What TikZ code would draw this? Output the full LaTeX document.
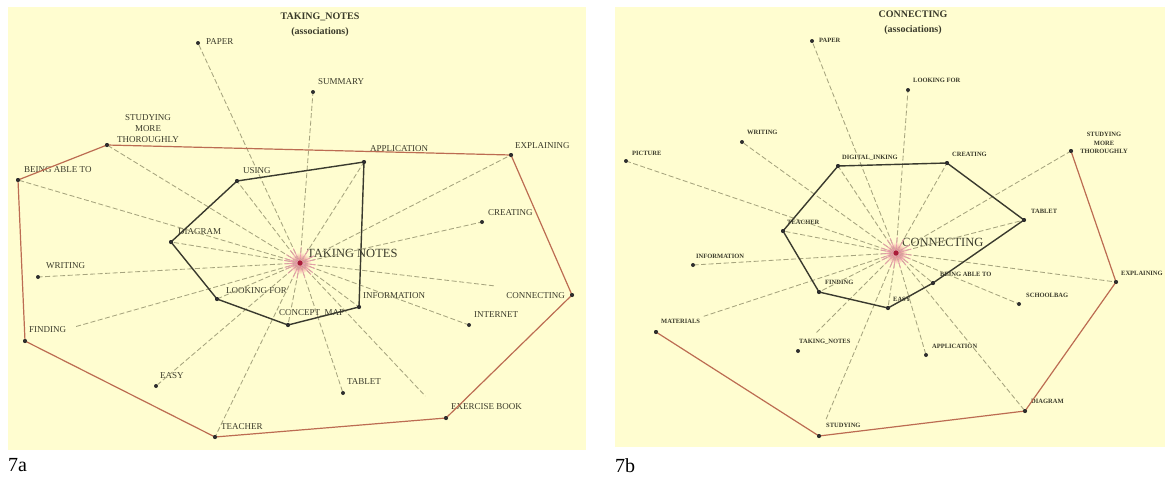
\documentclass[tikz,border=0pt]{standalone}
\usepackage{fontspec}
\setmainfont{Liberation Serif}
\usetikzlibrary{calc}
\definecolor{paper}{RGB}{255,253,208}
\definecolor{ink}{RGB}{58,58,42}
\definecolor{hull}{RGB}{188,108,82}
\definecolor{core}{RGB}{58,58,46}
\definecolor{assoc}{RGB}{166,164,126}
\definecolor{hub}{RGB}{212,36,72}
\pgfdeclarelayer{bg}
\pgfsetlayers{bg,main}
\begin{document}
\begin{tikzpicture}[x=1pt,y=-1pt,
  dot/.style={circle,fill=black!82,inner sep=0pt,minimum size=4pt},
  hubdot/.style={circle,fill=hub,inner sep=0pt,minimum size=5pt},
  lbl/.style={font=\fontsize{9}{11}\selectfont,text=ink,inner sep=0pt,anchor=west},
  lblb/.style={font=\fontsize{6.5}{8.5}\selectfont\bfseries,text=ink,inner sep=0pt,anchor=west},
  big/.style={font=\fontsize{12.5}{14}\selectfont,text=ink,inner sep=0pt,anchor=west},
  ttl/.style={font=\fontsize{10}{15}\selectfont\bfseries,text=ink,inner sep=0pt,align=center},
  figtag/.style={font=\fontsize{20}{22}\selectfont,text=black,inner sep=0pt,anchor=base west},
  assocline/.style={draw=assoc,dash pattern=on 5pt off 2.5pt,line width=0.85pt},
  spoke/.style={draw=hub!45,line width=0.7pt},
  hullline/.style={draw=hull,line width=1.2pt,line join=round},
  coreline/.style={draw=core,line width=1.4pt,line join=round},
  ]
\useasboundingbox (0,0) rectangle (1165,477);

% ---------------- panel 7a ----------------
\node[hubdot] (tn) at (300,263) {};
\node[dot] (aPaper) at (198,43) {};
\node[dot] (aSummary) at (313,92) {};
\node[dot] (aStudyMore) at (107,145) {};
\node[dot] (aBeing) at (18,180) {};
\node[dot] (aUsing) at (237,181) {};
\node[dot] (aAppl) at (364,162) {};
\node[dot] (aExpl) at (511,155) {};
\node[dot] (aCreat) at (482,222) {};
\node[dot] (aDiag) at (171,242) {};
\node[dot] (aWrit) at (38,277) {};
\node[dot] (aLook) at (217,299) {};
\node[dot] (aConcept) at (288,325) {};
\node[dot] (aInfo) at (359,307) {};
\node[dot] (aConn) at (572,295) {};
\node[dot] (aInternet) at (469,325) {};
\node[dot] (aFind) at (25,341) {};
\node[dot] (aEasy) at (156,386) {};
\node[dot] (aTablet) at (343,393) {};
\node[dot] (aExer) at (446,418) {};
\node[dot] (aTeach) at (215,437) {};

\node[ttl] (aTitle) at (320,24.5) {TAKING\_NOTES\\(associations)};
\node[lbl] (aPaperL) at (206,42) {PAPER};
\node[lbl] (aSummaryL) at (318,82) {SUMMARY};
\node[lbl,anchor=center,align=center] (aStudyMoreL) at (148,129) {STUDYING\\MORE\\THOROUGHLY};
\node[lbl] (aBeingL) at (24,170) {BEING ABLE TO};
\node[lbl] (aUsingL) at (243,171) {USING};
\node[lbl] (aApplL) at (370,149) {APPLICATION};
\node[lbl] (aExplL) at (515,146) {EXPLAINING};
\node[lbl] (aCreatL) at (488,213) {CREATING};
\node[lbl] (aDiagL) at (178,232) {DIAGRAM};
\node[big] (tnL) at (307,253) {TAKING NOTES};
\node[lbl] (aWritL) at (46,266) {WRITING};
\node[lbl] (aLookL) at (226,291) {LOOKING FOR};
\node[lbl] (aConceptL) at (279,313) {CONCEPT\_MAP};
\node[lbl] (aInfoL) at (363,296) {INFORMATION};
\node[lbl,anchor=east] (aConnL) at (565,296) {CONNECTING};
\node[lbl] (aInternetL) at (474,315) {INTERNET};
\node[lbl] (aFindL) at (29,330) {FINDING};
\node[lbl] (aEasyL) at (160,376) {EASY};
\node[lbl] (aTabletL) at (347,382) {TABLET};
\node[lbl] (aExerL) at (451,407) {EXERCISE BOOK};
\node[lbl] (aTeachL) at (221,427) {TEACHER};
\node[figtag] (capA) at (8,471) {7a};

% ---------------- panel 7b ----------------
\node[hubdot] (cn) at (896,253) {};
\node[dot] (bPaper) at (812,41) {};
\node[dot] (bLook) at (908,90) {};
\node[dot] (bWrit) at (742,142) {};
\node[dot] (bPict) at (626,161) {};
\node[dot] (bDigi) at (838,166) {};
\node[dot] (bCreat) at (947,163) {};
\node[dot] (bStudyMore) at (1071,151) {};
\node[dot] (bTablet) at (1024,220) {};
\node[dot] (bTeach) at (783,231) {};
\node[dot] (bInfo) at (693,265) {};
\node[dot] (bFind) at (819,292) {};
\node[dot] (bEasy) at (888,308) {};
\node[dot] (bBeing) at (933,283) {};
\node[dot] (bSchool) at (1019,304) {};
\node[dot] (bExpl) at (1116,282) {};
\node[dot] (bMat) at (656,332) {};
\node[dot] (bTaking) at (798,351) {};
\node[dot] (bAppl) at (926,355) {};
\node[dot] (bDiag) at (1025,411) {};
\node[dot] (bStudy) at (819,436) {};

\node[ttl] (bTitle) at (913,23) {CONNECTING\\(associations)};
\node[lblb] (bPaperL) at (819,40) {PAPER};
\node[lblb] (bLookL) at (913,80) {LOOKING FOR};
\node[lblb] (bWritL) at (747,132) {WRITING};
\node[lblb] (bPictL) at (632,153) {PICTURE};
\node[lblb] (bDigiL) at (842,158) {DIGITAL\_INKING};
\node[lblb] (bCreatL) at (952,154) {CREATING};
\node[lblb,anchor=center,align=center] (bStudyMoreL) at (1104,143) {STUDYING\\MORE\\THOROUGHLY};
\node[lblb] (bTabletL) at (1031,211) {TABLET};
\node[lblb] (bTeachL) at (787,222) {TEACHER};
\node[big] (cnL) at (902,242) {CONNECTING};
\node[lblb] (bInfoL) at (696,256) {INFORMATION};
\node[lblb] (bFindL) at (825,282) {FINDING};
\node[lblb] (bEasyL) at (893,299) {EASY};
\node[lblb] (bBeingL) at (940,274) {BEING ABLE TO};
\node[lblb] (bSchoolL) at (1026,295) {SCHOOLBAG};
\node[lblb] (bExplL) at (1121,273) {EXPLAINING};
\node[lblb] (bMatL) at (661,321) {MATERIALS};
\node[lblb] (bTakingL) at (799,342) {TAKING\_NOTES};
\node[lblb] (bApplL) at (932,346) {APPLICATION};
\node[lblb] (bDiagL) at (1031,401) {DIAGRAM};
\node[lblb] (bStudyL) at (826,425) {STUDYING};
\node[figtag] (capB) at (615,472) {7b};

% ---------------- backgrounds and glows ----------------
\begin{pgfonlayer}{bg}
  \fill[paper] (8,7) rectangle (586,450);
  \fill[paper] (615,7) rectangle (1165,447);
  \shade[inner color=hub!75,outer color=paper] (tn) circle (11pt);
  \shade[inner color=hub!75,outer color=paper] (cn) circle (11pt);
\end{pgfonlayer}

% ---------------- association spokes ----------------
\foreach \n in {aPaper,aSummary,aStudyMore,aBeing,aUsing,aAppl,aExpl,aCreat,aDiag,aWrit,aLook,aConcept,aInfo,aInternet,aEasy,aTablet,aTeach}
  {\draw[assocline] (tn) -- (\n);}
\draw[assocline,shorten >=74pt] (tn) -- (aConn);
\draw[assocline,shorten >=50pt] (tn) -- (aFind);
\draw[assocline,shorten >=28pt] (tn) -- (aExer);
\foreach \n in {aPaper,aSummary,aStudyMore,aBeing,aUsing,aAppl,aExpl,aCreat,aDiag,aWrit,aLook,aConcept,aInfo,aInternet,aEasy,aTablet,aTeach,aConn,aFind,aExer}
  {\draw[spoke] (tn) -- ($(tn)!16pt!(\n)$);}

\foreach \n in {bPaper,bLook,bWrit,bPict,bDigi,bCreat,bStudyMore,bTablet,bTeach,bInfo,bFind,bEasy,bBeing,bSchool,bExpl,bAppl,bDiag}
  {\draw[assocline] (cn) -- (\n);}
\draw[assocline,shorten >=48pt] (cn) -- (bMat);
\draw[assocline,shorten >=24pt] (cn) -- (bTaking);
\draw[assocline,shorten >=15pt] (cn) -- (bStudy);
\foreach \n in {bPaper,bLook,bWrit,bPict,bDigi,bCreat,bStudyMore,bTablet,bTeach,bInfo,bFind,bEasy,bBeing,bSchool,bExpl,bAppl,bDiag,bMat,bTaking,bStudy}
  {\draw[spoke] (cn) -- ($(cn)!16pt!(\n)$);}

% ---------------- hulls ----------------
\draw[hullline] (aStudyMore.center) -- (aExpl.center) -- (aConn.center) -- (aExer.center)
  -- (aTeach.center) -- (aFind.center) -- (aBeing.center) -- cycle;
\draw[coreline] (aUsing.center) -- (aAppl.center) -- (aInfo.center) -- (aConcept.center)
  -- (aLook.center) -- (aDiag.center) -- cycle;

\draw[hullline] (bStudyMore.center) -- (bExpl.center) -- (bDiag.center) -- (bStudy.center) -- (bMat.center);
\draw[coreline] (bDigi.center) -- (bCreat.center) -- (bTablet.center) -- (bBeing.center)
  -- (bEasy.center) -- (bFind.center) -- (bTeach.center) -- cycle;

% dots on top of the hull lines
\foreach \n in {aStudyMore,aExpl,aConn,aExer,aTeach,aFind,aBeing,aUsing,aAppl,aInfo,aConcept,aLook,aDiag,
                bStudyMore,bExpl,bDiag,bStudy,bMat,bDigi,bCreat,bTablet,bBeing,bEasy,bFind,bTeach}
  {\fill[black!82] (\n) circle (2pt);}
\fill[hub!80!black] (tn) circle (2.5pt);
\fill[hub!80!black] (cn) circle (2.5pt);
\end{tikzpicture}
\end{document}
